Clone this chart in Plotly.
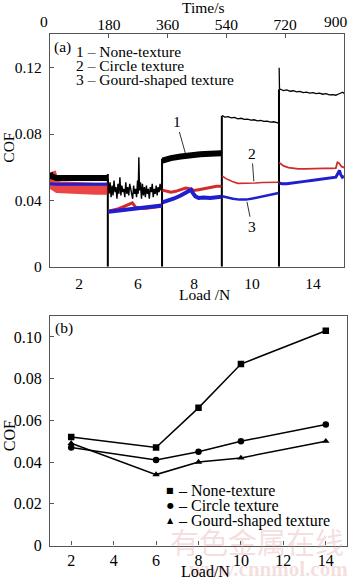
import plotly.graph_objects as go

W, H = 350, 587
SERIF = "Liberation Serif"

# ---------------- (a) time series ----------------
time_ticks = [0, 180, 360, 540, 720, 900]
time_ticktext = ["", "180", "360", "540", "720", ""]   # 0 and 900 are placed by hand (edge labels)
load_labels_a = ["2", "6", "8", "10", "14"]
load_centers_t = [89, 269, 441, 618, 805]          # time at which each load label sits
restart_t = [177, 343, 526, 701]                   # load changes (curve restarts from 0)
restart_peak = [0.056, 0.065, 0.091, 0.107]

# None-texture (black)
t_n1 = [0, 4, 20, 60, 100, 140, 176]
c_n1 = [0.0565, 0.0545, 0.0535, 0.0535, 0.0535, 0.0535, 0.0535]
t_n2 = [178, 181, 184, 187, 190, 193, 196, 199, 202, 205,
        208, 211, 214, 217, 220, 223, 226, 229, 232, 235,
        238, 241, 244, 247, 250, 253, 256, 259, 262, 265,
        268, 270, 272, 274, 277, 280, 283, 286, 289, 292,
        295, 298, 301, 304, 307, 310, 313, 316, 319, 322,
        325, 328, 331, 334, 337, 340]
c_n2 = [0.053, 0.044, 0.051, 0.042, 0.049, 0.043, 0.052, 0.045, 0.048, 0.041,
        0.050, 0.044, 0.054, 0.043, 0.049, 0.045, 0.047, 0.042, 0.051, 0.044,
        0.048, 0.043, 0.050, 0.046, 0.045, 0.041, 0.049, 0.044, 0.047, 0.042,
        0.052, 0.044, 0.066, 0.046, 0.051, 0.041, 0.050, 0.043, 0.048, 0.042,
        0.049, 0.044, 0.047, 0.041, 0.048, 0.045, 0.050, 0.042, 0.047, 0.044,
        0.049, 0.043, 0.048, 0.045, 0.050, 0.046]
t_n3 = [344, 350, 370, 400, 430, 460, 490, 524]
c_n3 = [0.0640, 0.0645, 0.0655, 0.0665, 0.0675, 0.0678, 0.0682, 0.0685]
t_n4 = [527, 535, 545, 555, 565, 575, 585, 595, 605, 615, 625, 635, 645, 655, 665, 675, 685, 695, 700]
c_n4 = [0.0912, 0.0902, 0.0905, 0.0897, 0.0900, 0.0892, 0.0895, 0.0888, 0.0890, 0.0884,
        0.0886, 0.0880, 0.0882, 0.0876, 0.0878, 0.0872, 0.0874, 0.0868, 0.0866]
t_n5 = [701.5, 702.5, 705, 715, 725, 735, 745, 755, 765, 775, 785, 795, 805, 815, 825,
        835, 845, 855, 865, 875, 882, 890, 896, 900]
c_n5 = [0.1200, 0.1075, 0.1070, 0.1062, 0.1066, 0.1058, 0.1061, 0.1054, 0.1057, 0.1050,
        0.1053, 0.1047, 0.1050, 0.1044, 0.1046, 0.1040, 0.1043, 0.1036, 0.1038, 0.1034,
        0.1040, 0.1048, 0.1052, 0.1045]

# Circle texture (red)
t_c1 = [0, 3, 10, 25, 60, 100, 140, 176]
c_c1 = [0.0570, 0.0530, 0.0500, 0.0480, 0.0472, 0.0470, 0.0470, 0.0470]
t_c2 = [179, 190, 210, 225, 235, 245, 252, 262, 280, 300, 320, 342]
c_c2 = [0.0335, 0.0340, 0.0350, 0.0362, 0.0372, 0.0380, 0.0385, 0.0360, 0.0352, 0.0355, 0.0360, 0.0365]
t_c3 = [344, 355, 370, 385, 400, 415, 425, 440, 455, 470, 490, 510, 525]
c_c3 = [0.0462, 0.0455, 0.0450, 0.0455, 0.0465, 0.0475, 0.0472, 0.0460, 0.0465, 0.0470, 0.0480, 0.0485, 0.0485]
t_c4 = [527, 532, 540, 550, 560, 575, 590, 610, 630, 650, 670, 690, 700]
c_c4 = [0.0548, 0.0540, 0.0530, 0.0522, 0.0512, 0.0503, 0.0503, 0.0505, 0.0505, 0.0508, 0.0508, 0.0510, 0.0510]
t_c5 = [702, 705, 715, 730, 745, 760, 780, 800, 820, 840, 860, 875, 880, 885, 892, 900]
c_c5 = [0.0628, 0.0622, 0.0608, 0.0598, 0.0592, 0.0590, 0.0590, 0.0592, 0.0592, 0.0593, 0.0593, 0.0595, 0.0630, 0.0625, 0.0605, 0.0598]

# Gourd-shaped texture (blue)
t_g1 = [0, 20, 60, 100, 140, 176]
c_g1 = [0.0500, 0.0497, 0.0497, 0.0497, 0.0497, 0.0497]
t_g2 = [179, 190, 210, 230, 250, 270, 290, 310, 330, 342]
c_g2 = [0.0332, 0.0335, 0.0340, 0.0345, 0.0350, 0.0354, 0.0358, 0.0362, 0.0367, 0.0370]
t_g3 = [344, 360, 380, 400, 415, 425, 432, 437, 445, 455, 470, 490, 510, 525]
c_g3 = [0.0388, 0.0398, 0.0412, 0.0430, 0.0445, 0.0458, 0.0465, 0.0445, 0.0425, 0.0415, 0.0418, 0.0415, 0.0418, 0.0422]
t_g4 = [527, 540, 560, 580, 600, 620, 640, 660, 680, 700]
c_g4 = [0.0425, 0.0418, 0.0410, 0.0405, 0.0405, 0.0412, 0.0420, 0.0430, 0.0437, 0.0445]
t_g5 = [702, 710, 725, 740, 760, 780, 800, 820, 840, 860, 875, 882, 886, 890, 895, 900]
c_g5 = [0.0505, 0.0500, 0.0500, 0.0505, 0.0510, 0.0515, 0.0520, 0.0525, 0.0530, 0.0535, 0.0540, 0.0565, 0.0580, 0.0555, 0.0540, 0.0545]

# ---------------- (b) mean COF vs load ----------------
load_b = [2, 6, 8, 10, 14]
cof_none = [0.052, 0.047, 0.066, 0.087, 0.103]
cof_circle = [0.047, 0.041, 0.045, 0.050, 0.058]
cof_gourd = [0.049, 0.034, 0.040, 0.042, 0.050]
series_names = ["None-texture", "Circle texture", "Gourd-shaped texture"]

BLACK = "#000000"
RED = "rgba(232,36,36,0.85)"
RED2 = "#d42a2a"
BLUE = "#1f1fd0"

fig = go.Figure()


def seg(t, c, color, width, xa="x2"):
    fig.add_trace(go.Scatter(x=t, y=c, mode="lines", xaxis=xa, yaxis="y",
                             line=dict(color=color, width=width), hoverinfo="skip"))


# red (bottom layer)
seg(t_c1, c_c1, RED, 12)
seg(t_c2, c_c2, RED2, 3)
seg(t_c3, c_c3, RED2, 3)
seg(t_c4, c_c4, RED2, 1.6)
seg(t_c5, c_c5, RED2, 1.8)
# blue
seg(t_g1, c_g1, BLUE, 3)
seg(t_g2, c_g2, BLUE, 4)
seg(t_g3, c_g3, BLUE, 4)
seg(t_g4, c_g4, BLUE, 2.5)
seg(t_g5, c_g5, BLUE, 3)
# black
seg(t_n1, c_n1, BLACK, 6)
seg(t_n2, c_n2, BLACK, 1.4)
seg(t_n3, c_n3, BLACK, 6)
seg(t_n4, c_n4, BLACK, 1.3)
seg(t_n5, c_n5, BLACK, 1.3)

# vertical restart lines (from 0 up to the new curve)
vx, vy = [], []
for t, p in zip(restart_t, restart_peak):
    vx += [t, t, None]
    vy += [0, p, None]
fig.add_trace(go.Scatter(x=vx, y=vy, mode="lines", xaxis="x", yaxis="y",
                         line=dict(color=BLACK, width=2), hoverinfo="skip"))

# panel (b)
for vals, sym in zip([cof_none, cof_circle, cof_gourd], ["square", "circle", "triangle-up"]):
    fig.add_trace(go.Scatter(x=load_b, y=vals, mode="lines+markers", xaxis="x3", yaxis="y3",
                             line=dict(color=BLACK, width=1.5),
                             marker=dict(symbol=sym, size=6.5, color=BLACK), hoverinfo="skip"))

FRAME = "#555555"
tick_font = dict(family=SERIF, size=15.5, color="black")
x_dom = [50 / W, 344 / W]
x_dom_b = [50 / W, 347 / W]
y_dom_a = [1 - 271 / H, 1 - 35 / H]
y_dom_b = [1 - 554 / H, 1 - 321 / H]

fig.update_layout(
    width=W, height=H, margin=dict(l=0, r=0, t=0, b=0),
    paper_bgcolor="white", plot_bgcolor="white", showlegend=False,
    xaxis=dict(domain=x_dom, anchor="y", range=[0, 900], tickmode="array",
               tickvals=load_centers_t, ticktext=load_labels_a, ticks="",
               showline=True, linecolor=FRAME, linewidth=1.3, mirror=True,
               showgrid=False, zeroline=False, tickfont=tick_font, ticklabelstandoff=2),
    xaxis2=dict(domain=x_dom, anchor="y", overlaying="x", side="top", range=[0, 900],
                tickmode="array", tickvals=time_ticks, ticktext=time_ticktext,
                ticks="inside", ticklen=4, tickcolor=FRAME, showline=False,
                showgrid=False, zeroline=False, tickfont=tick_font),
    yaxis=dict(domain=y_dom_a, anchor="x", range=[0, 0.14], tickmode="array",
               tickvals=[0, 0.04, 0.08, 0.12], ticktext=["0", "0.04", "0.08", "0.12"],
               ticks="inside", ticklen=4, tickcolor=FRAME,
               showline=True, linecolor=FRAME, linewidth=1.3, mirror=True,
               showgrid=False, zeroline=False, tickfont=tick_font, ticklabelstandoff=4),
    xaxis3=dict(domain=x_dom_b, anchor="y3", range=[1, 15], tickmode="array",
                tickvals=[2, 4, 6, 8, 10, 12, 14], ticks="inside", ticklen=4, tickcolor=FRAME,
                showline=True, linecolor=FRAME, linewidth=1.3, mirror=True,
                showgrid=False, zeroline=False, tickfont=dict(family=SERIF, size=16, color="black")),
    yaxis3=dict(domain=y_dom_b, anchor="x3", range=[0, 0.11], tickmode="array",
                tickvals=[0, 0.02, 0.04, 0.06, 0.08, 0.10],
                ticktext=["0", "0.02", "0.04", "0.06", "0.08", "0.10"],
                ticks="inside", ticklen=4, tickcolor=FRAME,
                showline=True, linecolor=FRAME, linewidth=1.3, mirror=True,
                showgrid=False, zeroline=False, tickfont=dict(family=SERIF, size=16, color="black"),
                ticklabelstandoff=4),
)


def P(x, y):
    return x / W, 1 - y / H


def txt(x, y, s, size=15.5, xanchor="left", **kw):
    px, py = P(x, y)
    fig.add_annotation(x=px, y=py, xref="paper", yref="paper", text=s, showarrow=False,
                       xanchor=xanchor, yanchor="middle",
                       font=dict(family=kw.pop("family", SERIF), size=size,
                                 color=kw.pop("color", "black")), **kw)


# watermark
txt(257, 549, "有色金属在线", size=29, xanchor="center", family="Noto Sans CJK SC",
    color="rgba(225,160,160,0.35)")
txt(268, 578, "<b>www.cnnmol.com</b>", size=21, xanchor="center", color="rgba(225,160,160,0.35)")

# axis titles
txt(203, 8, "Time/s", xanchor="center")
txt(44, 22, str(time_ticks[0]), xanchor="center")
txt(336, 22, str(time_ticks[-1]), xanchor="center")
txt(204, 299, "Load /N", xanchor="center")
txt(205, 580, "Load/N", size=16, xanchor="center")
txt(9, 150, "COF", xanchor="center", textangle=-90)
txt(9, 443, "COF", size=16, xanchor="center", textangle=-90)

# panel (a) labels and key
txt(52, 48, "(a)")
txt(74, 52, "1 – None-texture")
txt(74, 67, "2 – Circle texture")
txt(74, 81, "3 – Gourd-shaped texture")

# panel (b) label and key
txt(53, 333, "(b)")
for yy, sym, name in zip([498, 513, 529], ["■", "●", "▲"], series_names):
    txt(170, yy, sym, size=8, xanchor="center", family="DejaVu Sans")
    txt(176, yy, "– " + name, size=16)

# curve labels with leader lines
for s, t, c, ax, ay in [("1", 415, 0.068, -9, -32), ("2", 624, 0.0515, -2, -28), ("3", 603, 0.0392, 5, 25)]:
    fig.add_annotation(x=t, y=c, xref="x2", yref="y", text=s, showarrow=True,
                       arrowhead=0, arrowwidth=0.8, arrowcolor="black", ax=ax, ay=ay,
                       standoff=0, font=dict(family=SERIF, size=15.5, color="black"))

fig.write_html("out.html")
